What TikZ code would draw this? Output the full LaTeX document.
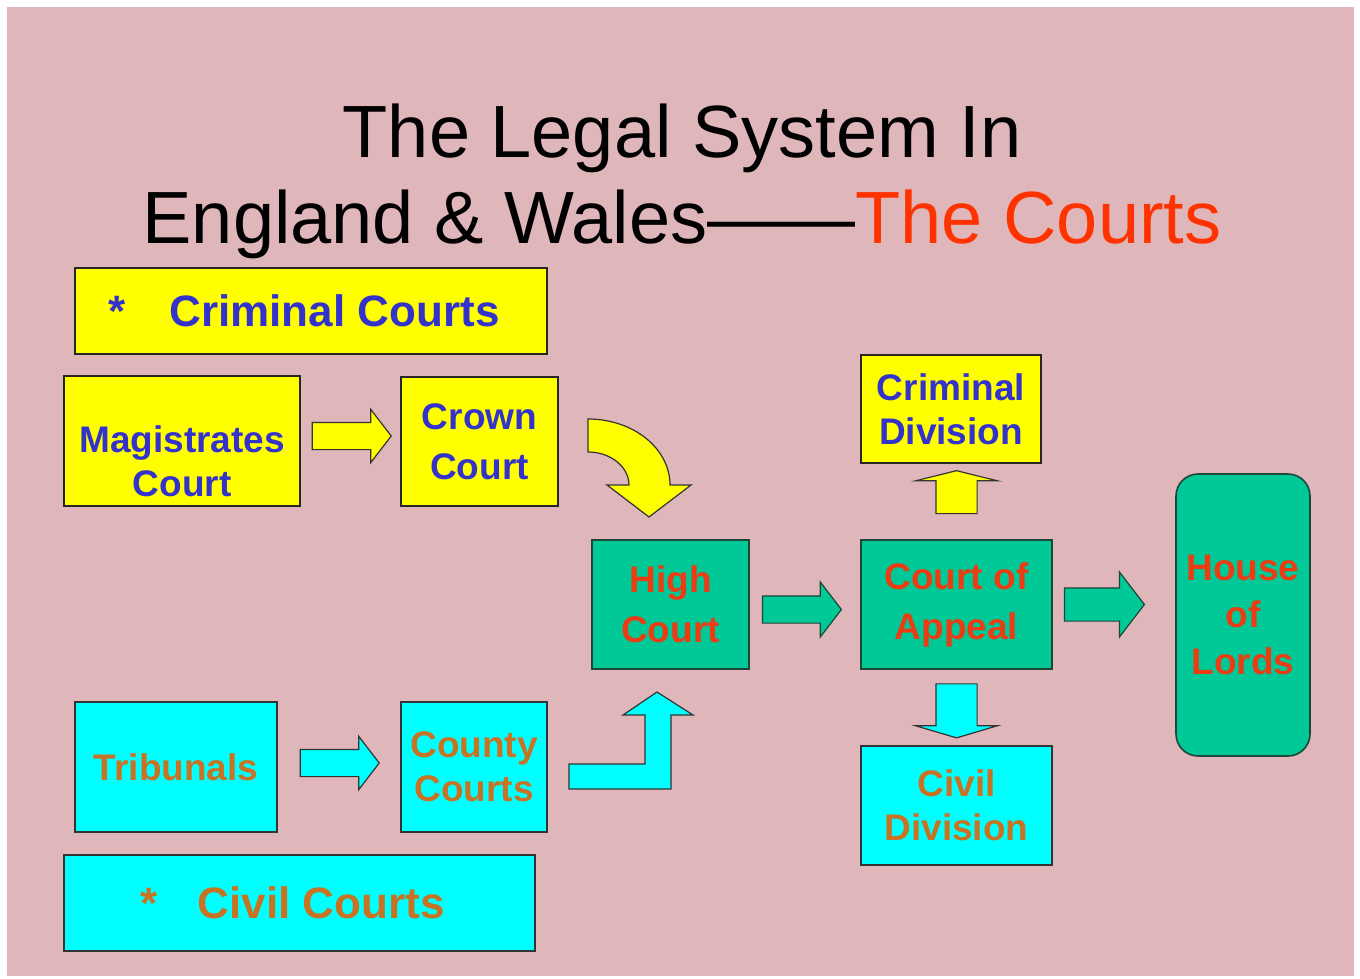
\documentclass[tikz,border=0pt]{standalone}
\usepackage{fontspec}
\setmainfont{Liberation Sans}
\usetikzlibrary{shapes.arrows,positioning,calc}

\definecolor{bgpink}{RGB}{223,182,186}
\definecolor{courtyellow}{RGB}{255,255,0}
\definecolor{courtgreen}{RGB}{0,200,150}
\definecolor{courtcyan}{RGB}{0,255,255}
\definecolor{inkblue}{RGB}{51,51,204}
\definecolor{inkred}{RGB}{235,60,20}
\definecolor{inkbrown}{RGB}{200,115,35}
\definecolor{titlered}{RGB}{255,51,0}
\definecolor{greenedge}{RGB}{30,70,55}

\newcommand{\courtfont}{\fontsize{37}{44}\selectfont\bfseries}

\begin{document}
\begin{tikzpicture}[
    x=1pt, y=-1pt,
    ybox/.style={draw=black!85, line width=1.2pt, fill=courtyellow, text=inkblue, font=\courtfont, align=center, inner sep=0pt},
    gbox/.style={draw=greenedge, line width=1.6pt, fill=courtgreen, text=inkred, font=\courtfont, align=center, inner sep=0pt},
    cbox/.style={draw=black!80, line width=1.2pt, fill=courtcyan, text=inkbrown, font=\courtfont, align=center, inner sep=0pt},
    header/.style={font=\fontsize{44}{52}\selectfont\bfseries},
    title/.style={font=\fontsize{74}{88}\selectfont, anchor=base, inner sep=0pt},
    harrow/.style={single arrow, line width=1.2pt, draw=black!80, inner xsep=0pt, inner ysep=13pt, minimum height=79pt, single arrow head extend=13pt, single arrow tip angle=105},
    varrow/.style={single arrow, line width=1.2pt, draw=black!80, inner xsep=0pt, inner ysep=20pt, single arrow head extend=20pt}
]
% background
\fill[white] (0,0) rectangle (1360,978);
\useasboundingbox (0,0) rectangle (1360,978);
\fill[bgpink] (7,7) rectangle (1354,976);

% title
\node[title] (line1) at (682,157) {The Legal System In};
\node[title] (line2) at (682,243) {England \& Wales——\textcolor{titlered}{The Courts}};

% criminal side
\node[ybox, header, minimum width=472pt, minimum height=86pt] (crimhdr) at (311,311) {*\hspace{44pt}Criminal Courts\hspace{14pt}};
\node[ybox, minimum width=236pt, minimum height=130pt] (mag) at (182,441) {};
\node[font=\courtfont, text=inkblue, align=center, inner sep=0pt] (magtext) at ([yshift=-20pt]mag.center) {Magistrates\\Court};
\node[ybox, minimum width=157pt, minimum height=129pt, font=\fontsize{37}{50}\selectfont\bfseries] (crown) at (479.5,441.5) {Crown\\Court};

% appeal courts
\node[gbox, minimum width=157pt, minimum height=129pt, font=\fontsize{37}{50}\selectfont\bfseries] (high) at (670.5,604.5) {High\\Court};
\node[gbox, minimum width=191pt, minimum height=129pt, font=\fontsize{37}{50}\selectfont\bfseries] (appeal) at (956.5,604.5) {Court of\\Appeal};
\node[ybox, minimum width=180pt, minimum height=108pt] (crimdiv) at (951,409) {Criminal\\Division};
\node[cbox, minimum width=191pt, minimum height=119pt] (civdiv) at (956.5,805.5) {Civil\\Division};
\node[gbox, rounded corners=22pt, minimum width=134pt, minimum height=282pt, font=\fontsize{37}{47}\selectfont\bfseries] (lords) at (1243,615) {House\\of\\Lords};

% civil side
\node[cbox, minimum width=202pt, minimum height=130pt] (trib) at (176,767) {Tribunals};
\node[cbox, minimum width=146pt, minimum height=130pt] (county) at (474,767) {County\\Courts};
\node[cbox, header, minimum width=471pt, minimum height=96pt] (civhdr) at (299.5,903) {*\hspace{40pt}Civil Courts\hspace{14pt}};

% block arrows
\node[harrow, fill=courtyellow, right=11pt of mag, yshift=5pt] (magcrown) {};
\node[harrow, fill=courtcyan, right=22pt of trib, yshift=4pt] (tribcounty) {};
\node[harrow, fill=courtgreen, draw=greenedge, right=12pt of high, yshift=-5pt, single arrow head extend=14pt] (highappeal) {};
\node[harrow, fill=courtgreen, draw=greenedge, right=11pt of appeal, inner ysep=16pt, minimum height=80pt, single arrow head extend=16pt] (appeallords) {};
\node[varrow, fill=courtyellow, rotate=90, minimum height=43pt, single arrow tip angle=152] (appealcrim) at ($(appeal.north)+(0,-44.5)$) {};
\node[varrow, fill=courtcyan, rotate=-90, minimum height=54pt, single arrow tip angle=147] (appealciv) at ($(appeal.south)+(0,38)$) {};

% crown court -> high court (curved)
\draw[line width=1.2pt, draw=black!80, fill=courtyellow]
  (588,419) .. controls (633.3,419) and (670,448.5) .. (670,485)
  -- (691,485) -- (649,517) -- (607,485) -- (629,485)
  .. controls (629,466.8) and (610.6,452) .. (588,452) -- cycle;
% county courts -> high court (bent)
\draw[line width=1.2pt, draw=black!80, fill=courtcyan]
  (569,764) -- (645,764) -- (645,715) -- (623,715) -- (657,692)
  -- (693,715) -- (671,715) -- (671,789) -- (569,789) -- cycle;
\end{tikzpicture}
\end{document}
